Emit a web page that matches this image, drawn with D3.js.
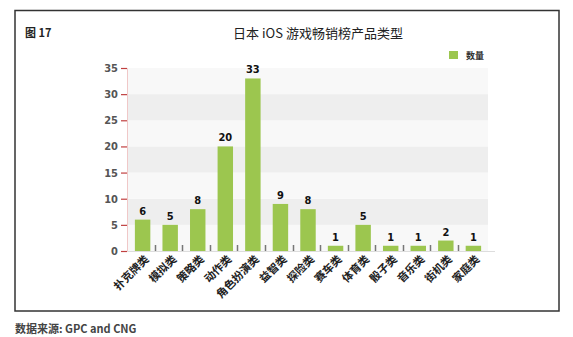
<!DOCTYPE html>
<html><head><meta charset="utf-8">
<script src="https://cdn.jsdelivr.net/npm/d3@7"></script>
<style>body{margin:0;background:#fff;}svg{display:block;}</style>
</head><body>
<svg id="c" width="573" height="337"></svg>
<script>
const categories = ["扑克牌类","模拟类","策略类","动作类","角色扮演类","益智类","探险类","赛车类","体育类","骰子类","音乐类","街机类","家庭类"];
const values = [6,5,8,20,33,9,8,1,5,1,1,2,1];
const yTicks = [0,5,10,15,20,25,30,35];
const seriesName = "数量";
const figLabel = "图 17";
const title = "日本 iOS 游戏畅销榜产品类型";
const source = "数据来源: GPC and CNG";

(function () {
const svg = d3.select("#c");
const cjk = "'Noto Sans CJK SC', 'Noto Sans', sans-serif";
const num = "'Liberation Sans Narrow', 'DejaVu Sans Condensed', sans-serif";
const pL = 128, pR = 488, pT = 68, pB = 251;

const x = d3.scaleBand().domain(categories).range([pL, pR]).paddingInner(0.44).paddingOuter(0.25);
const y = d3.scaleLinear().domain([0, 35]).range([pB, pT]);

// frame
svg.append("rect").attr("x", 15).attr("y", 10.5).attr("width", 544).attr("height", 300.5)
  .attr("fill", "none").attr("stroke", "#333").attr("stroke-width", 1.5);

// background bands
for (let i = 0; i < yTicks.length - 1; i++) {
  const a = yTicks[i], b = yTicks[i + 1];
  svg.append("rect").attr("x", pL).attr("y", y(b)).attr("width", pR - pL)
    .attr("height", y(a) - y(b)).attr("fill", i % 2 === 0 ? "#f8f8f8" : "#eeeeee");
}

// y axis
const yAxis = svg.append("g").attr("transform", `translate(${pL - 1},0)`)
  .call(d3.axisLeft(y).tickValues(yTicks).tickSize(6).tickPadding(3));
yAxis.select(".domain").attr("stroke", "#f0c8c8").attr("stroke-width", 1);
yAxis.selectAll(".tick line").attr("stroke", "#c04040").attr("stroke-width", 1.2);
yAxis.selectAll(".tick text").attr("fill", "#555").attr("font-family", num)
  .attr("font-weight", "bold").attr("font-size", 11);

// x axis line
svg.append("line").attr("x1", pL).attr("x2", 495).attr("y1", pB + 0.5).attr("y2", pB + 0.5)
  .attr("stroke", "#dddddd").attr("stroke-width", 1);

// bars
svg.selectAll("rect.bar").data(values).enter().append("rect").attr("class", "bar")
  .attr("x", (d, i) => x(categories[i])).attr("width", x.bandwidth())
  .attr("y", d => y(d)).attr("height", d => pB - y(d)).attr("fill", "#9cc64f");

// x tick marks at band boundaries
const step = x.step();
const x0 = x.range()[0];
for (let i = 1; i < categories.length; i++) {
  const xx = Math.round(x0 + step * i - step * 0.03) + 0.5;
  svg.append("line").attr("x1", xx).attr("x2", xx).attr("y1", pB - 6).attr("y2", pB)
    .attr("stroke", "#777").attr("stroke-width", 1.5);
}

// value labels
svg.selectAll("text.val").data(values).enter().append("text").attr("class", "val")
  .attr("x", (d, i) => x(categories[i]) + x.bandwidth() / 2).attr("y", d => y(d) - 5)
  .attr("text-anchor", "middle").attr("font-family", num).attr("font-weight", "bold")
  .attr("font-size", 11).attr("fill", "#111").text(d => d);

// category labels
svg.selectAll("text.cat").data(categories).enter().append("text").attr("class", "cat")
  .attr("transform", d => `translate(${x(d) + x.bandwidth() / 2 + 7},${pB + 9}) rotate(-45)`)
  .attr("text-anchor", "end").attr("font-family", cjk).attr("font-weight", "bold")
  .attr("font-size", 11).attr("fill", "#222").text(d => d);

// titles
svg.append("text").attr("x", 25).attr("y", 37).attr("font-family", cjk).attr("font-weight", "bold")
  .attr("font-size", 11).attr("fill", "#222").text(figLabel);
svg.append("text").attr("x", 318).attr("y", 38).attr("text-anchor", "middle").attr("font-family", cjk)
  .attr("font-size", 13).attr("fill", "#222").text(title);

// legend
svg.append("rect").attr("x", 449).attr("y", 51).attr("width", 9).attr("height", 8).attr("fill", "#9cc64f");
svg.append("text").attr("x", 466).attr("y", 59).attr("font-family", cjk).attr("font-weight", "bold")
  .attr("font-size", 9).attr("fill", "#333").text(seriesName);

// source
svg.append("text").attr("x", 15).attr("y", 333).attr("font-family", cjk).attr("font-weight", "bold")
  .attr("font-size", 11).attr("fill", "#444").text(source);
})();
</script>
</body></html>
